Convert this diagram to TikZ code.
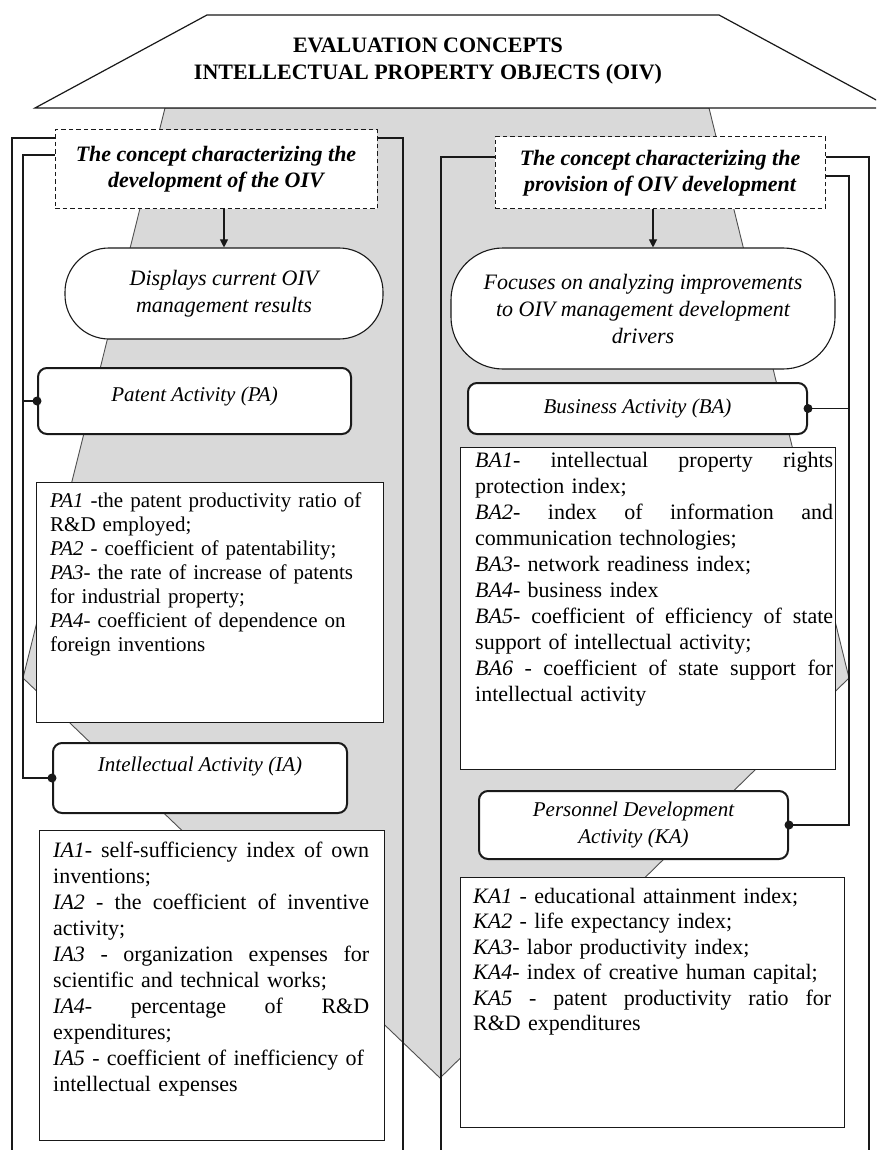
\documentclass[tikz,border=0pt]{standalone}
\usepackage{fontspec}
\setmainfont{Liberation Serif}
\usetikzlibrary{arrows.meta}
\definecolor{shade}{RGB}{217,217,217}
\definecolor{ink}{RGB}{25,25,25}
\definecolor{shadeline}{RGB}{80,80,80}
\newcommand{\JL}[2]{{\spaceskip=0pt\xspaceskip=0pt\makebox[#1][s]{#2}}}
\begin{document}
\begin{tikzpicture}[x=1pt,y=-1pt,
  frameline/.style={draw=ink,line width=1.1pt},
  conn/.style={draw=ink,line width=1.1pt},
  arr/.style={draw=ink,line width=1.1pt,-{Triangle[length=8pt,width=8pt]}},
  dashbox/.style={draw=ink,fill=white,line width=1pt,dash pattern=on 4.5pt off 3pt,
    align=center,inner sep=0pt,font=\fontsize{22}{26}\selectfont\bfseries\itshape},
  oval/.style={draw=ink,fill=white,line width=1.1pt,align=center,inner sep=0pt,
    font=\fontsize{22}{27}\selectfont\itshape},
  actbox/.style={draw=ink,fill=white,line width=2pt,rounded corners=9pt,align=center,
    inner sep=0pt,font=\fontsize{21}{27}\selectfont\itshape},
  listbox/.style={draw=ink,fill=white,line width=1.2pt,inner sep=0pt,anchor=north west},
  listtext/.style={anchor=north west,inner sep=0pt,align=left},
  dot/.style={fill=ink}
]
\clip (0,0) rectangle (876,1150);
\fill[white] (0,0) rectangle (876,1150);

% big grey arrow shape
\draw[draw=shadeline,fill=shade,line width=0.9pt] (165,108) -- (709,108) -- (849,678) -- (440,1078) -- (23,678) -- cycle;

% title trapezoid
\draw[fill=white,draw=ink,line width=1.2pt] (207,15) -- (719,15) -- (891,108) -- (35,108) -- cycle;
\node[align=center,inner sep=0pt,font=\fontsize{22}{27}\selectfont\bfseries] (title) at (428,61)
  {EVALUATION CONCEPTS\\INTELLECTUAL PROPERTY OBJECTS (OIV)};

% column frames
\draw[frameline] (12,1160) -- (12,138) -- (403,138) -- (403,1160);

% dashed concept boxes
\node[dashbox,minimum width=322pt,minimum height=79pt] (dashL) at (216,169.5)
  {The concept characterizing the\\development of the OIV};
\node[dashbox,minimum width=330pt,minimum height=72pt] (dashR) at (660,173)
  {The concept characterizing the\\provision of OIV development};

% right column frame lines
\coordinate (rfl) at (441,157);
\coordinate (rfr) at (869,157);
\draw[frameline] (dashR.west |- rfl) -- (rfl) -- (441,1160);
\draw[frameline] (dashR.east |- rfr) -- (rfr) -- (869,1160);

% ovals
\node[oval,minimum width=318pt,minimum height=91pt,rounded corners=44pt] (ellL) at (224,293.5)
  {Displays current OIV\\management results};
\node[oval,minimum width=384pt,minimum height=121pt,rounded corners=52pt] (ellR) at (643,308.5)
  {Focuses on analyzing improvements\\to OIV management development\\drivers};

\draw[arr] (ellL.north |- dashL.south) -- (ellL.north);
\draw[arr] ([xshift=-7pt]dashR.south) -- ([xshift=-7pt]dashR.south |- ellR.north);

% activity boxes
\node[actbox,minimum width=313pt,minimum height=66pt,text height=12pt,text depth=12pt] (pa) at (194.5,401) {Patent Activity (PA)};
\node[actbox,minimum width=339pt,minimum height=51pt] (ba) at (637.5,408.5) {Business Activity (BA)};
\node[actbox,minimum width=294pt,minimum height=70pt,text height=10pt,text depth=23pt] (ia) at (200,778) {Intellectual Activity (IA)};
\node[actbox,minimum width=309pt,minimum height=68pt] (ka) at (633.5,825) {Personnel Development\\Activity (KA)};

% connectors left
\coordinate (lbus) at (23,155);
\draw[conn] (dashL.west |- lbus) -- (lbus) |- (pa.west);
\draw[conn] (lbus) |- (ia.west);
\fill[dot] (pa.west) circle (4.5pt);
\fill[dot] (ia.west) circle (4.5pt);

% connectors right
\coordinate (rbus) at (849,176);
\draw[conn] (dashR.east |- rbus) -- (rbus) |- (ba.east);
\draw[conn] (rbus) |- (ka.east);
\fill[dot] (ba.east) circle (4.5pt);
\fill[dot] (ka.east) circle (4.5pt);

% list boxes
\node[listbox,minimum width=347pt,minimum height=240pt] (pabox) at (36,482) {};
\node[listtext,font=\fontsize{21}{24}\selectfont,text width=330pt] (patxt) at (50,490)
 {\strut\textit{PA1} -the patent productivity ratio of\\
  R\&D employed;\\
  \textit{PA2} - coefficient of patentability;\\
  \textit{PA3}- the rate of increase of patents\\
  for industrial property;\\
  \textit{PA4}- coefficient of dependence on\\
  foreign inventions};

\node[listbox,minimum width=345pt,minimum height=310pt] (iabox) at (39,830) {};
\node[listtext,font=\fontsize{22}{26}\selectfont,text width=320pt] (iatxt) at (53,839)
 {\strut\JL{316pt}{\textit{IA1}- self-sufficiency index of own}\\
  inventions;\\
  \JL{316pt}{\textit{IA2} - the coefficient of inventive}\\
  activity;\\
  \JL{316pt}{\textit{IA3} - organization expenses for}\\
  scientific and technical works;\\
  \JL{316pt}{\textit{IA4}- percentage of R\&D}\\
  expenditures;\\
  \textit{IA5} - coefficient of inefficiency of\\
  intellectual expenses};

\node[listbox,minimum width=375pt,minimum height=322pt] (babox) at (460,447) {};
\node[listtext,font=\fontsize{22}{26}\selectfont,text width=360pt] (batxt) at (475,449)
 {\strut\JL{358pt}{\textit{BA1}- intellectual property rights}\\
  protection index;\\
  \JL{358pt}{\textit{BA2}- index of information and}\\
  communication technologies;\\
  \textit{BA3}- network readiness index;\\
  \textit{BA4}- business index\\
  \JL{358pt}{\textit{BA5}- coefficient of efficiency of state}\\
  support of intellectual activity;\\
  \JL{358pt}{\textit{BA6} - coefficient of state support for}\\
  intellectual activity};

\node[listbox,minimum width=384pt,minimum height=250pt] (kabox) at (460,877) {};
\node[listtext,font=\fontsize{22}{25.5}\selectfont,text width=360pt] (katxt) at (473,885)
 {\strut\textit{KA1} - educational attainment index;\\
  \textit{KA2} - life expectancy index;\\
  \textit{KA3}- labor productivity index;\\
  \textit{KA4}- index of creative human capital;\\
  \JL{358pt}{\textit{KA5} - patent productivity ratio for}\\
  R\&D expenditures};
\end{tikzpicture}
\end{document}
